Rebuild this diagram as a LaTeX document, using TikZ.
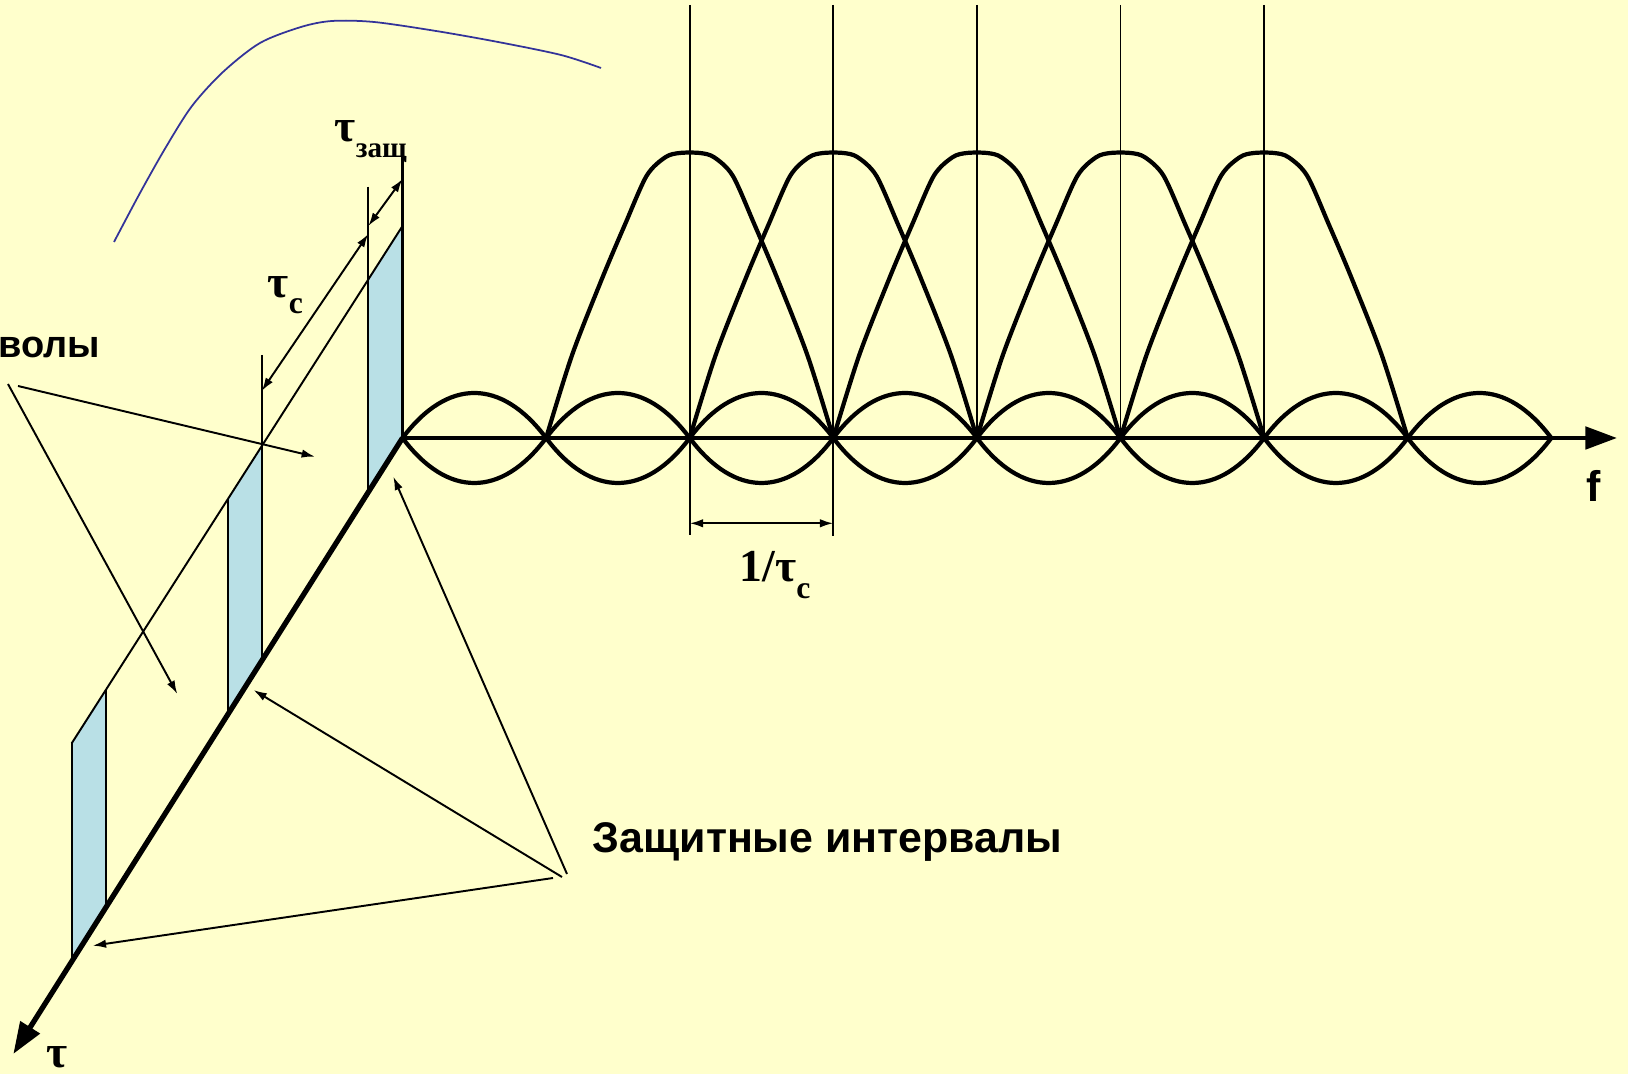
\documentclass[tikz,border=0pt]{standalone}
\usepackage{fontspec}
\setmainfont{Liberation Sans}
\newfontfamily\greekserif{Liberation Serif}
\usetikzlibrary{arrows.meta, calc}
\definecolor{slidebg}{RGB}{255,255,204}
\definecolor{guardblue}{RGB}{185,224,230}
\definecolor{curveblue}{RGB}{51,51,153}

\begin{document}
\begin{tikzpicture}[x=0.01cm, y=-0.01cm, >={Latex[length=3.8pt,width=2.4pt]},
    guide/.style={line width=0.55pt},
    lobe/.style={line width=1.2pt, line join=round},
    taxis/.style={line width=1.3pt, -{Triangle[length=9pt,width=6.3pt]}},
    lbl/.style={font=\bfseries\fontsize{12.2}{15}\selectfont, inner sep=0pt},
    tlbl/.style={font=\greekserif\bfseries\fontsize{13}{15}\selectfont, inner sep=0pt}]
    \path[use as bounding box, fill=slidebg] (0,0) rectangle (1628,1074);
    \clip (0,0) rectangle (1628,1074);

    \coordinate (O) at (402.5,438);
    \fill[guardblue] (71.7,961.7) -- (106,907.4) -- (106,689.7) -- (71.7,743.3) -- cycle;
    \fill[guardblue] (227.7,714.7) -- (261.7,660.9) -- (261.7,446.2) -- (227.7,499.4) -- cycle;
    \fill[guardblue] (368.3,492.1) -- (O) -- (402.5,226) -- (368.3,279.5) -- cycle;

    \draw[guide] (402.5,226) -- (71.7,743.3);
    \draw[guide] (71.7,743.3) -- (71.7,961.7);
    \draw[guide] (106,689.7) -- (106,907.4);
    \draw[guide] (227.7,499.4) -- (227.7,714.7);
    \draw[guide] (261.7,355) -- (261.7,660.9);
    \draw[guide] (368.3,186.7) -- (368.3,492.1);
    \draw[line width=0.8pt] (402.5,148) -- (O);
    \draw[taxis, line width=1.5pt] (O) -- (13.3,1054);
    \draw[taxis] (O) -- (1617,438);

    \draw[guide, <->] (261.7,391) -- (368.3,234);
    \draw[guide, <->] (368.3,226) -- (402.5,179);

    \foreach \k in {0,...,7}
        \draw[lobe, shift={({402.5+143.6*\k},438)}] (0,0) .. controls (45,-60) and (98.6,-60) .. (143.6,0)
            .. controls (98.6,60) and (45,60) .. (0,0);
    \foreach \k in {2,...,6}
        \draw[lobe, shift={({402.5+143.6*\k},438)}, xscale=143.6, yscale=-285] plot[smooth, tension=0.5] coordinates
            {(-1,0) (-0.82,0.29) (-0.61,0.56) (-0.45,0.75) (-0.3,0.92) (-0.17,0.985) (-0.07,1)
             (0.07,1) (0.17,0.985) (0.3,0.92) (0.45,0.75) (0.61,0.56) (0.82,0.29) (1,0)};
    \foreach \k/\bot in {2/535, 3/536, 4/438, 5/438, 6/438}
        \draw[guide] ({402.5+143.6*\k},5) -- ({402.5+143.6*\k},\bot);
    \draw[guide, <->] (689.7,523.3) -- (833.3,523.3);

    \draw[curveblue, line width=0.5pt] plot[smooth] coordinates
        {(114,242) (140,193) (166,147) (192,106) (223,72) (260,43) (301,27) (332,21) (374,22)
         (436,31) (498,42) (561,55) (601,68)};

    \node[lbl, anchor=base west] (flbl) at (1586,502) {f};
    \node[tlbl, anchor=base west] (taulbl) at (46,1067) {τ};
    \node[tlbl, anchor=base west] (tguard) at (334,142) {τ\raisebox{-4.3pt}{\fontsize{8.3}{10}\selectfont защ}};
    \node[tlbl, anchor=base west] (tsym) at (267,298) {τ\raisebox{-4.3pt}{\fontsize{9}{10}\selectfont c}};
    \node[tlbl, anchor=base west] (tspace) at (739,582) {1/τ\raisebox{-4.6pt}{\fontsize{9}{10}\selectfont c}};
    \node[lbl, anchor=base west] (guardtxt) at (592,853) {Защитные интервалы};
    \node[lbl, font=\bfseries\fontsize{10.8}{13}\selectfont, anchor=base east] (symtxt) at (101,358) {волы};

    \coordinate (gR) at (393.3,476.7);
    \coordinate (gM) at (253.5,690);
    \coordinate (gL) at (92.7,945.7);
    \coordinate (gsR) at ($(guardtxt.base west)+(-25,21)$);
    \coordinate (gsM) at ($(guardtxt.base west)+(-30,24)$);
    \coordinate (gsL) at ($(guardtxt.base west)+(-39,25)$);
    \draw[guide, ->] (gsR) -- (gR);
    \draw[guide, ->] (gsM) -- (gM);
    \draw[guide, ->] (gsL) -- (gL);

    \coordinate (sD) at (177.3,694);
    \coordinate (sR) at (315,456.7);
    \coordinate (ssD) at ($(symtxt.base east)+(-93,26)$);
    \coordinate (ssR) at ($(symtxt.base east)+(-83,28)$);
    \draw[guide, ->] (ssD) -- (sD);
    \draw[guide, ->] (ssR) -- (sR);
\end{tikzpicture}
\end{document}
